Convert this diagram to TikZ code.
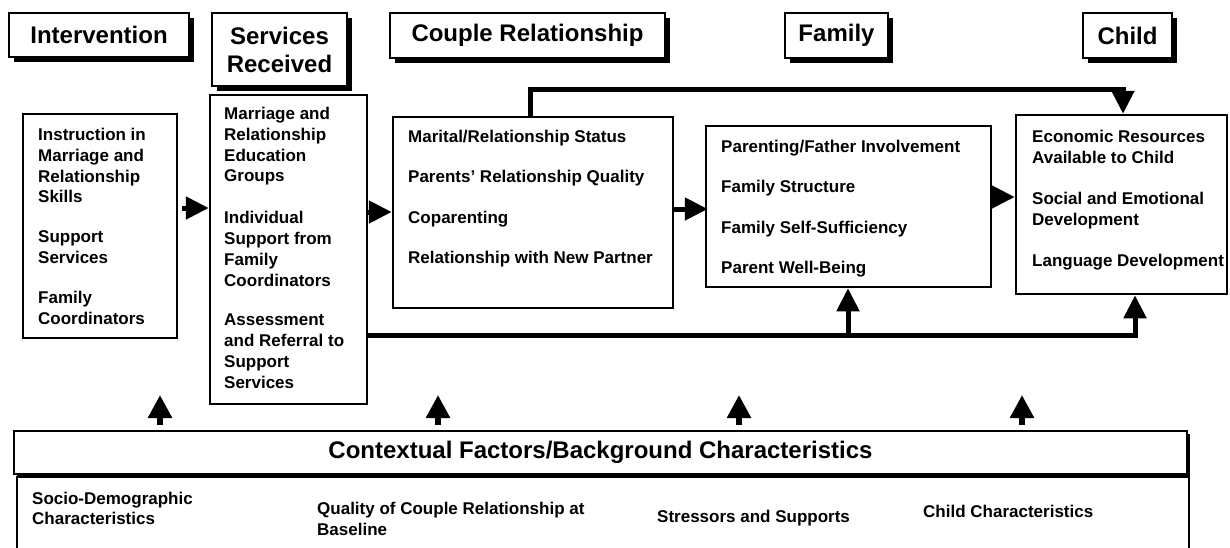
\documentclass[tikz,border=0pt]{standalone}
\usepackage{fontspec}
\setmainfont{Liberation Sans}
\usetikzlibrary{arrows.meta,shadows,calc}
\tikzset{
  hdr/.style={draw, line width=2pt, fill=white, inner sep=0pt, align=center,
    font=\fontsize{24}{28}\selectfont\bfseries,
    drop shadow={shadow xshift=4.5pt, shadow yshift=-4.5pt, fill=black, opacity=1}},
  cbox/.style={draw, line width=2.5pt, inner sep=0pt},
  txt/.style={anchor=north west, inner sep=0pt, align=left, font=\fontsize{17}{20.8}\selectfont\bfseries},
  wide/.style={anchor=north west, inner sep=0pt, align=left, font=\fontsize{17}{40.3}\selectfont\bfseries},
  arr/.style={line width=5pt, -{Triangle[length=23pt,width=22pt]}},
  uparr/.style={line width=5.5pt, -{Triangle[length=23pt,width=23pt]}},
  conn/.style={line width=5pt}
}
\begin{document}
\begin{tikzpicture}[x=1pt,y=-1pt]
\useasboundingbox (0,0) rectangle (1230,547);
\clip (0,0) rectangle (1230,547);
\fill[white] (0,0) rectangle (1230,547);

% header boxes
\node[hdr, minimum width=180pt, minimum height=44pt] (hint) at (99,35) {Intervention};
\node[hdr, minimum width=135pt, minimum height=73pt] (hsvc) at (279.5,49.5) {Services\\Received};
\node[hdr, minimum width=275pt, minimum height=45pt] (hcpl) at (527.5,35.5) {Couple Relationship};
\node[hdr, minimum width=103pt, minimum height=45pt] (hfam) at (836.5,35.5) {Family};
\node[hdr, minimum width=89pt, minimum height=45pt] (hchd) at (1127.5,35.5) {Child};

% content boxes
\node[cbox, minimum width=154pt, minimum height=224pt] (int) at (100,226) {};
\node[cbox, minimum width=157pt, minimum height=309pt] (svc) at (288.5,249.5) {};
\node[cbox, minimum width=280pt, minimum height=191pt] (cpl) at (533,212.5) {};
\node[cbox, minimum width=285pt, minimum height=161pt] (fam) at (848.5,206.5) {};
\node[cbox, minimum width=211pt, minimum height=179pt] (chd) at (1121.5,204.5) {};

\node[txt] (tint) at (38,128) {Instruction in\\Marriage and\\Relationship\\Skills\\[19pt]Support\\Services\\[19pt]Family\\Coordinators};
\node[txt] (tsvc) at (224,107) {Marriage and\\Relationship\\Education\\Groups\\[21pt]Individual\\Support from\\Family\\Coordinators\\[19pt]Assessment\\and Referral to\\Support\\Services};
\node[wide] (tcpl) at (408,130) {Marital/Relationship Status\\Parents' Relationship Quality\\Coparenting\\Relationship with New Partner};
\node[wide] (tfam) at (721,140) {Parenting/Father Involvement\\Family Structure\\Family Self-Sufficiency\\Parent Well-Being};
\node[txt] (tchd) at (1032,130) {Economic Resources\\Available to Child\\[20.5pt]Social and Emotional\\Development\\[20.5pt]Language Development};

% horizontal arrows
\draw[arr, shorten <=4pt] (int.east |- 0,208) -- (svc.west |- 0,208);
\draw[arr] (svc.east |- 0,212) -- (cpl.west |- 0,212);
\draw[arr] (cpl.east |- 0,209) -- ([xshift=3pt]fam.west |- 0,209);
\draw[arr] (fam.east |- 0,197) -- (chd.west |- 0,197);

% top connector couple -> child
\coordinate (tl) at (530,89);
\coordinate (tr) at (1123,89);
\draw[arr] (cpl.north -| tl) -- (tl) -- (tr) -- (chd.north -| tr);

% bottom connector services -> family, child
\coordinate (bl) at (848,335.5);
\coordinate (br) at (1135,335.5);
\draw[arr] (svc.east |- br) -- (br) -- (chd.south -| br);
\draw[arr] (bl) -- (fam.south -| bl);

% contextual factors
\node[draw, line width=2.5pt, minimum width=1172pt, minimum height=130pt, inner sep=0pt] (ctxlow) at (603,542) {};
\node[draw, line width=1.5pt, fill=white, minimum width=1173pt, minimum height=43pt, inner sep=0pt,
  font=\fontsize{24}{28}\selectfont\bfseries,
  drop shadow={shadow xshift=3pt, shadow yshift=-3pt, fill=black, opacity=1}] (ctx) at (600.5,452.5)
  {Contextual Factors/Background Characteristics};

\coordinate (c1) at (160,425);
\coordinate (c2) at (438,425);
\coordinate (c3) at (739,425);
\coordinate (c4) at (1022,425);
\foreach \c in {c1,c2,c3,c4} \draw[uparr] (\c) -- ++(0,-30);

\node[txt, font=\fontsize{17}{20}\selectfont\bfseries] (l1) at (32,492) {Socio-Demographic\\Characteristics};
\node[txt, font=\fontsize{17}{21}\selectfont\bfseries] (l2) at (317,502) {Quality of Couple Relationship at\\Baseline};
\node[txt] (l3) at (657,510) {Stressors and Supports};
\node[txt] (l4) at (923,505) {Child Characteristics};
\end{tikzpicture}
\end{document}
